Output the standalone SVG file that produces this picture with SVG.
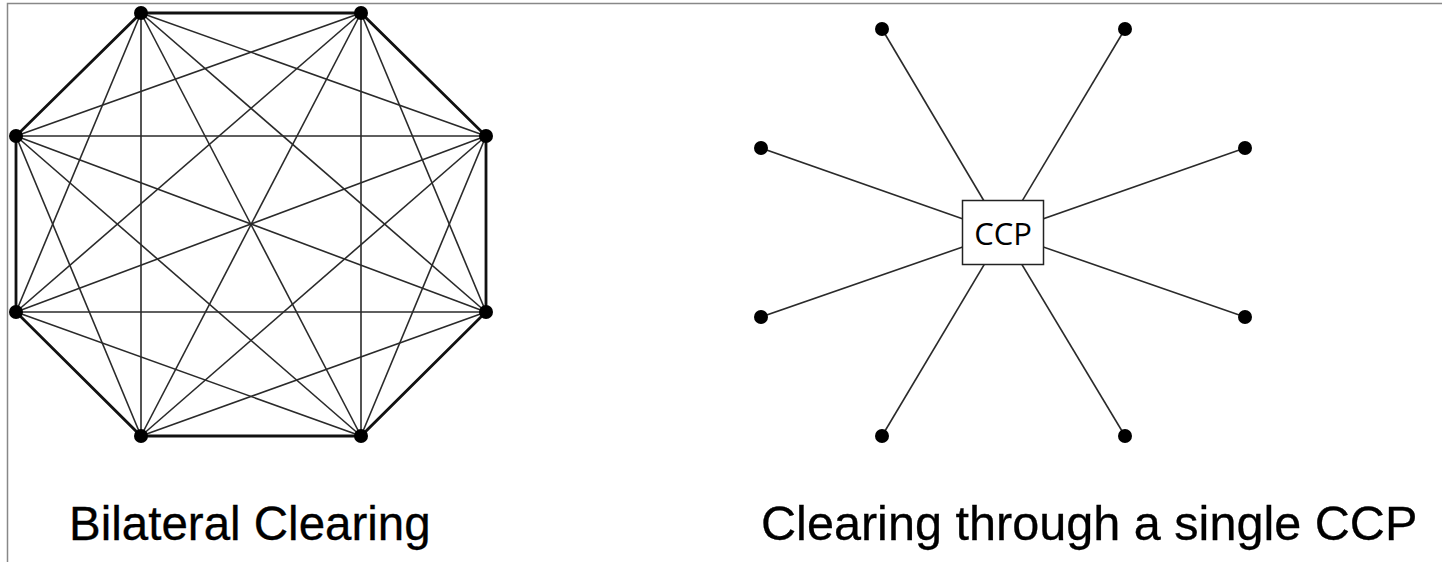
<svg xmlns="http://www.w3.org/2000/svg" width="1442" height="562" viewBox="0 0 1442 562">
<style>
.rim{stroke:#111;stroke-width:2.8;fill:none;stroke-linecap:round}
.chord{stroke:#2a2a2a;stroke-width:1.6;fill:none}
.spoke{stroke:#2a2a2a;stroke-width:1.6;fill:none}
.dot{fill:#000}
.label{font-family:"Liberation Sans",Arial,sans-serif;font-size:47.5px;fill:#000;stroke:#000;stroke-width:0.3}
.ccp{font-family:"Open Sans","Liberation Sans",sans-serif;font-size:31px;fill:#000}
</style>
<rect x="0" y="0" width="1442" height="562" fill="#fff"/>
<path d="M7.5 562 V3.5 H1442" stroke="#888" stroke-width="1.5" fill="none"/>
<g id="connectors">
<g id="bilateral-rim">
<polygon class="rim" points="141,13 361,13 486,136 486,312 361,436 141,436 16,312 16,136"/>
</g>
<g id="bilateral-chords">
<line class="chord" x1="141" y1="13" x2="486" y2="136"/>
<line class="chord" x1="141" y1="13" x2="486" y2="312"/>
<line class="chord" x1="141" y1="13" x2="361" y2="436"/>
<line class="chord" x1="141" y1="13" x2="141" y2="436"/>
<line class="chord" x1="141" y1="13" x2="16" y2="312"/>
<line class="chord" x1="361" y1="13" x2="486" y2="312"/>
<line class="chord" x1="361" y1="13" x2="361" y2="436"/>
<line class="chord" x1="361" y1="13" x2="141" y2="436"/>
<line class="chord" x1="361" y1="13" x2="16" y2="312"/>
<line class="chord" x1="361" y1="13" x2="16" y2="136"/>
<line class="chord" x1="486" y1="136" x2="361" y2="436"/>
<line class="chord" x1="486" y1="136" x2="141" y2="436"/>
<line class="chord" x1="486" y1="136" x2="16" y2="312"/>
<line class="chord" x1="486" y1="136" x2="16" y2="136"/>
<line class="chord" x1="486" y1="312" x2="141" y2="436"/>
<line class="chord" x1="486" y1="312" x2="16" y2="312"/>
<line class="chord" x1="486" y1="312" x2="16" y2="136"/>
<line class="chord" x1="361" y1="436" x2="16" y2="312"/>
<line class="chord" x1="361" y1="436" x2="16" y2="136"/>
<line class="chord" x1="141" y1="436" x2="16" y2="136"/>
</g>
<g id="ccp-spokes">
<line class="spoke" x1="882" y1="29" x2="1003" y2="233"/>
<line class="spoke" x1="1125" y1="29" x2="1003" y2="233"/>
<line class="spoke" x1="761" y1="148" x2="1003" y2="233"/>
<line class="spoke" x1="1245" y1="148" x2="1003" y2="233"/>
<line class="spoke" x1="761" y1="317" x2="1003" y2="233"/>
<line class="spoke" x1="1245" y1="317" x2="1003" y2="233"/>
<line class="spoke" x1="882" y1="436" x2="1003" y2="233"/>
<line class="spoke" x1="1125" y1="436" x2="1003" y2="233"/>
</g>
</g>
<g id="bilateral-nodes">
<circle id="b1" class="dot" cx="141" cy="13" r="7"/>
<circle id="b2" class="dot" cx="361" cy="13" r="7"/>
<circle id="b3" class="dot" cx="486" cy="136" r="7"/>
<circle id="b4" class="dot" cx="486" cy="312" r="7"/>
<circle id="b5" class="dot" cx="361" cy="436" r="7"/>
<circle id="b6" class="dot" cx="141" cy="436" r="7"/>
<circle id="b7" class="dot" cx="16" cy="312" r="7"/>
<circle id="b8" class="dot" cx="16" cy="136" r="7"/>
</g>
<g id="ccp-nodes">
<circle id="c1" class="dot" cx="882" cy="29" r="7"/>
<circle id="c2" class="dot" cx="1125" cy="29" r="7"/>
<circle id="c3" class="dot" cx="761" cy="148" r="7"/>
<circle id="c4" class="dot" cx="1245" cy="148" r="7"/>
<circle id="c5" class="dot" cx="761" cy="317" r="7"/>
<circle id="c6" class="dot" cx="1245" cy="317" r="7"/>
<circle id="c7" class="dot" cx="882" cy="436" r="7"/>
<circle id="c8" class="dot" cx="1125" cy="436" r="7"/>
</g>
<g id="ccp">
<rect x="962.5" y="200.5" width="81" height="64" fill="#fff" stroke="#222" stroke-width="1.5"/>
<text class="ccp" x="1003" y="245" text-anchor="middle">CCP</text>
</g>
<g id="labels">
<text id="label-bilateral" class="label" x="69" y="540">Bilateral Clearing</text>
<text id="label-ccp" class="label" x="761" y="540" style="font-size:48.6px">Clearing through a single CCP</text>
</g>
</svg>
